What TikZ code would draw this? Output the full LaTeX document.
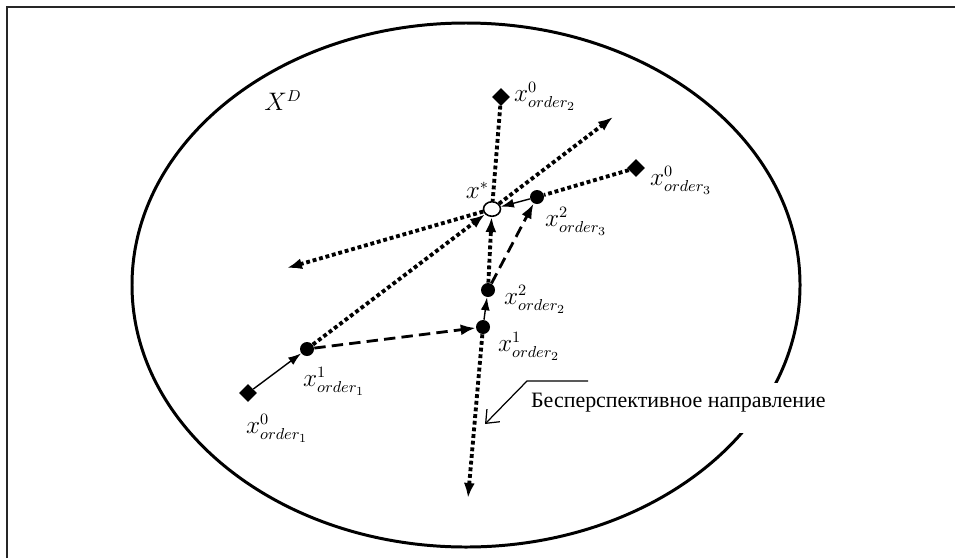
\documentclass[tikz,border=0pt]{standalone}
\usepackage{amsmath,amssymb}
\usepackage{fontspec}
\setmainfont{Liberation Serif}
\usepackage{tikz}
\usetikzlibrary{arrows.meta,shapes.geometric,calc}
\tikzset{
start/.style={
diamond,
fill=black,
inner sep=0pt,
minimum size=3.6mm
},
iter/.style={
circle,
fill=black,
inner sep=0pt,
minimum size=2.8mm
},
optimum/.style={
ellipse,
draw,
fill=white,
line width=0.9pt,
inner sep=0pt,
minimum width=3.4mm,
minimum height=2.9mm
},
lbl/.style={
inner sep=1pt,
font=\fontsize{13.5}{16}\selectfont
},
ray/.style={
line width=2.2pt,
dash pattern=on 2.2pt off 1.6pt
},
rayarrow/.style={
ray,
-{Latex[length=3mm,width=2.2mm]}
},
move/.style={
line width=0.8pt,
-{Latex[length=2.6mm,width=1.8mm]}
},
jump/.style={
line width=1.6pt,
dash pattern=on 6.5pt off 3.5pt,
-{Latex[length=3mm,width=2.2mm]}
},
callout/.style={
line width=0.7pt,
-{Straight Barb[length=2.2mm,width=3.6mm]}
}
}
\begin{document}
\begin{tikzpicture}[x=0.02cm,y=-0.02cm]
\useasboundingbox (0,0) rectangle (955,558);
\draw[line width=1.1pt,black!85] (7,558) -- (7,7) -- (955,7);
\draw[line width=1.7pt] (466,285) ellipse (334 and 262);

% points of the search
\node[optimum](opt) at (492,209) {};
\node[start](o1s0) at (248,393) {};
\node[iter](o1s1) at (307,349) {};
\node[start](o2s0) at (501,97) {};
\node[iter](o2s1) at (483,327) {};
\node[iter](o2s2) at (488,290) {};
\node[start](o3s0) at (636,168) {};
\node[iter](o3s2) at (537,197) {};
\coordinate (ur) at (613,117);
\coordinate (lf) at (287,268);
\coordinate (dn) at (468,498);

% rays through the optimum
\draw[ray](o2s0)--(opt);
\draw[ray](o3s0)--(o3s2);
\foreach \x/\y in {o1s1/opt,opt/ur,opt/lf,o2s2/opt,o2s1/dn}
\draw[rayarrow](\x)--(\y);
\foreach \x/\y in {o1s0/o1s1,o2s1/o2s2,o3s2/opt}
\draw[move](\x)--(\y);
\draw[jump](o1s1)--(o2s1);
\draw[jump](o2s2)--(o3s2);

% labels
\node[lbl,anchor=center](ld) at (283,101) {$X^{D}$};
\node[lbl,anchor=south east](lopt) at (491,201) {$x^{*}$};
\node[lbl,anchor=west](l20) at (512,96) {$x^{0}_{order_2}$};
\node[lbl,anchor=west](l30) at (648,180) {$x^{0}_{order_3}$};
\node[lbl,anchor=west](l32) at (543,221) {$x^{2}_{order_3}$};
\node[lbl,anchor=west](l22) at (502,299) {$x^{2}_{order_2}$};
\node[lbl,anchor=west](l21) at (496,346) {$x^{1}_{order_2}$};
\node[lbl,anchor=north west](l11) at (301,365) {$x^{1}_{order_1}$};
\node[lbl,anchor=north west](l10) at (244,412) {$x^{0}_{order_1}$};

% note
\fill[white] (527,383) rectangle (852,433);
\node[lbl,font=\fontsize{12.5}{15}\selectfont,anchor=base west](note) at (529,407) {Бесперспективное направление};
\coordinate (ce) at (588,381);
\coordinate (cb) at (527,381);
\coordinate (ct) at (485,424);
\draw[callout](ce)--(cb)--(ct);
\end{tikzpicture}
\end{document}
